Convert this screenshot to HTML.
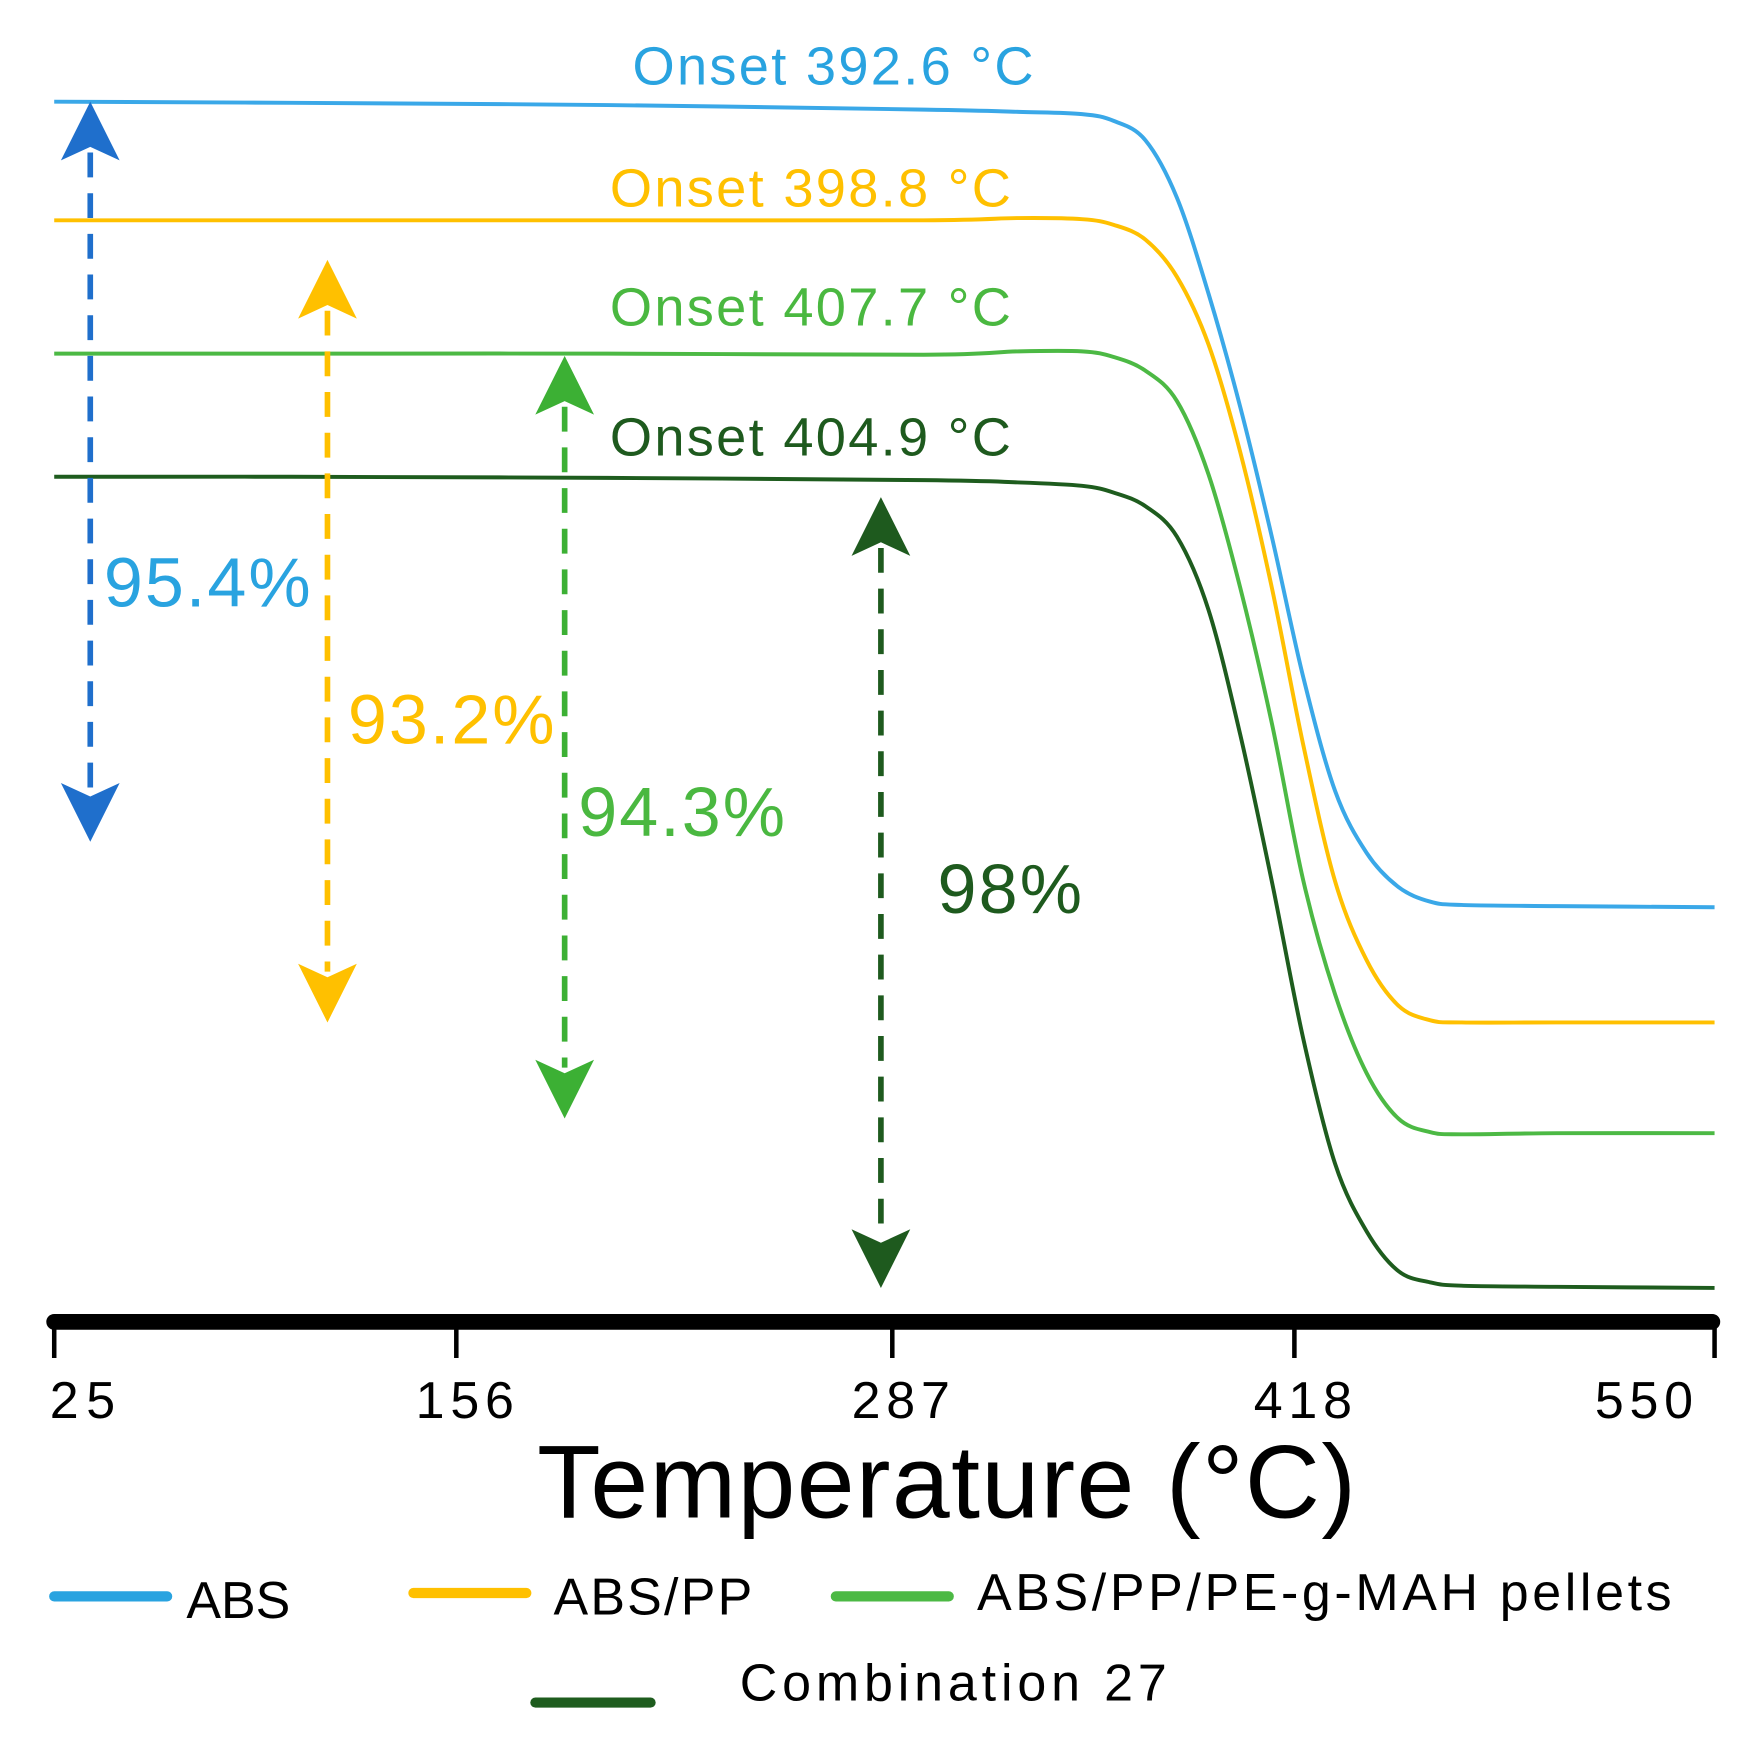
<!DOCTYPE html>
<html><head><meta charset="utf-8"><style>
html,body{margin:0;padding:0;background:#fff;}
svg{display:block;}
text{font-family:"Liberation Sans",sans-serif;}
</style></head><body>
<svg id="chart" width="1762" height="1741" viewBox="0 0 1560 1541" preserveAspectRatio="none" xmlns="http://www.w3.org/2000/svg">
<rect width="1560" height="1541" fill="#fff"/>
<g id="curves"></g>
<g id="arrows"></g>
<g font-size="48">
<text x="560" y="75" fill="#29a3e0" textLength="355">Onset 392.6 °C</text>
<text x="540" y="183" fill="#ffc000" textLength="355">Onset 398.8 °C</text>
<text x="540" y="288" fill="#4ab840" textLength="355">Onset 407.7 °C</text>
<text x="540" y="403" fill="#1e5a1e" textLength="355">Onset 404.9 °C</text>
</g>
<g font-size="62">
<text x="92" y="537" fill="#29a3e0" textLength="183">95.4%</text>
<text x="308" y="658" fill="#ffc000" textLength="183">93.2%</text>
<text x="512" y="740" fill="#4ab840" textLength="183">94.3%</text>
<text x="830" y="808" fill="#1e5a1e" textLength="128">98%</text>
</g>
<g id="axis"></g>
<text x="838" y="1343" font-size="92" text-anchor="middle" textLength="725">Temperature (°C)</text>
<g font-size="46">
<line x1="48" y1="1413" x2="148" y2="1413" stroke="#29a3e0" stroke-width="9" stroke-linecap="round"/>
<text x="165" y="1432" textLength="92">ABS</text>
<line x1="366" y1="1410" x2="466" y2="1410" stroke="#ffc000" stroke-width="9" stroke-linecap="round"/>
<text x="490" y="1429" textLength="176">ABS/PP</text>
<line x1="740" y1="1413" x2="840" y2="1413" stroke="#4cb944" stroke-width="9" stroke-linecap="round"/>
<text x="865" y="1425" textLength="615">ABS/PP/PE-g-MAH pellets</text>
<line x1="474" y1="1507" x2="576" y2="1507" stroke="#1e5c1e" stroke-width="9" stroke-linecap="round"/>
<text x="655" y="1505" textLength="378">Combination 27</text>
</g>
</svg>
<script>
const temps = [25,100,200,300,330,350,360,370,380,390,400,410,420,430,440,450,460,470,500,550];
const absVals = [108,107.9,107.7,107.3,107.1,106.9,106.3,104.6,99.5,91,81,69.5,57,47,41.5,38.5,37.2,36.9,36.8,36.7];
const absPpVals = [97.5,97.5,97.5,97.5,97.7,97.6,97.1,95.8,92.5,86.5,77,65,51,39,32,28,26.7,26.5,26.5,26.5];
const pelletVals = [85.7,85.7,85.7,85.6,85.9,85.9,85.4,84.2,81.5,75,65,53,39,29,22,18,16.8,16.6,16.7,16.7];
const comboVals = [74.8,74.8,74.7,74.5,74.3,74,73.4,72.2,69.5,63,52,39,25,14,8,4.5,3.5,3.2,3.1,3.0];
const tickLabels = [25,156,287,418,550];
const seriesNames = ['abs','abs-pp','pellets','combination'];
const seriesColors = ['#3aa8e8','#ffc000','#4cb944','#1e5c1e'];
const arrowTemps = [36.4,111.4,186.4,286.4];
const arrowTop = [108,94,85.5,73];
const arrowBottom = [42.5,26.5,18,3];
const arrowColors = ['#1f6fcc','#ffc000','#3cb034','#1e5a1e'];

const NS='http://www.w3.org/2000/svg';
function xs(t){return 48+(t-25)*(1518-48)/525;}
function ys(v){return 1170-v*10;}
function mk(tag,attrs,parent){const e=document.createElementNS(NS,tag);for(const k in attrs)e.setAttribute(k,attrs[k]);parent.appendChild(e);return e;}
function smooth(pts){let d='M'+pts[0][0]+','+pts[0][1];for(let i=0;i<pts.length-1;i++){const p0=pts[i-1]||pts[i],p1=pts[i],p2=pts[i+1],p3=pts[i+2]||p2;const c1x=p1[0]+(p2[0]-p0[0])/6,c1y=p1[1]+(p2[1]-p0[1])/6,c2x=p2[0]-(p3[0]-p1[0])/6,c2y=p2[1]-(p3[1]-p1[1])/6;d+=' C'+c1x+','+c1y+' '+c2x+','+c2y+' '+p2[0]+','+p2[1];}return d;}

const cg=document.getElementById('curves');
[absVals,absPpVals,pelletVals,comboVals].forEach((vals,i)=>{
  const pts=temps.map((t,j)=>[xs(t),ys(vals[j])]);
  const p=mk('path',{d:smooth(pts),fill:'none',stroke:seriesColors[i],'stroke-width':3.5},cg);
  
  
});

const ag=document.getElementById('arrows');
arrowTemps.forEach((t,i)=>{
  const x=xs(t),y1=ys(arrowTop[i]),y2=ys(arrowBottom[i]),c=arrowColors[i];
  const g=mk('g',{},ag);
  
  
  mk('line',{x1:x,y1:y1+45,x2:x,y2:y2-45,stroke:c,'stroke-width':5,'stroke-dasharray':'22 14'},g);
  mk('path',{d:`M${x},${y1} L${x+26},${y1+52} L${x},${y1+40} L${x-26},${y1+52}Z`,fill:c},g);
  mk('path',{d:`M${x},${y2} L${x+26},${y2-52} L${x},${y2-40} L${x-26},${y2-52}Z`,fill:c},g);
});

const xg=document.getElementById('axis');
const al=mk('line',{x1:48,y1:1170,x2:1516,y2:1170,stroke:'#000','stroke-width':14,'stroke-linecap':'round'},xg);


const tickPx=[48,404,790,1146,1518];
tickLabels.forEach((lab,i)=>{
  const x=tickPx[i];
  const tk=mk('line',{x1:x,y1:1170,x2:x,y2:1202,stroke:'#000','stroke-width':4},xg);
  
  
  const s=String(lab);
  const tx=mk('text',{x:i===0?44:(i===4?1412:x-36),y:1255,'font-size':46,textLength:s.length*29},xg);
  tx.textContent=lab;
  
  
});
</script>
</body></html>
